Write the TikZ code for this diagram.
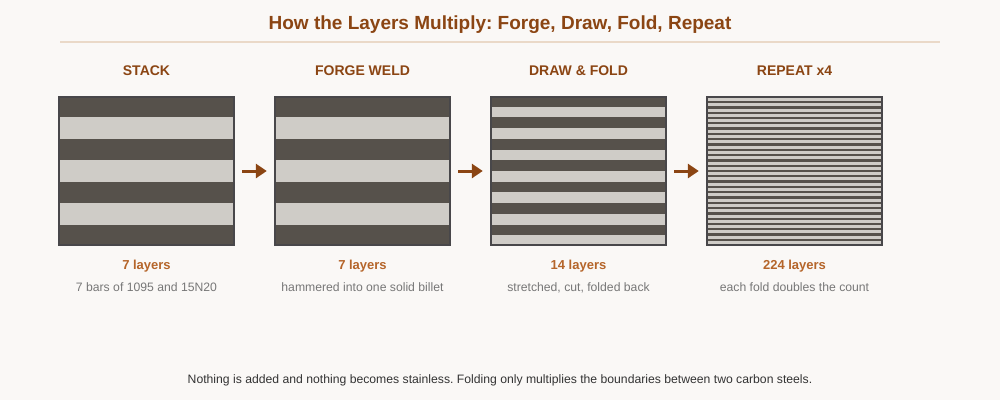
\documentclass[tikz,border=0pt]{standalone}
\usepackage{fontspec}
\setmainfont{Liberation Sans}
\usetikzlibrary{arrows.meta}
\frenchspacing

\definecolor{bgpaper}{HTML}{FAF8F6}
\definecolor{rust}{HTML}{8B4513}
\definecolor{copper}{HTML}{B5652A}
\definecolor{darksteel}{HTML}{56514B}
\definecolor{lightsteel}{HTML}{CFCCC7}
\definecolor{frameedge}{HTML}{48474A}
\definecolor{rulecol}{HTML}{EAD9C8}
\definecolor{notegray}{HTML}{777777}
\definecolor{footgray}{HTML}{333333}

\tikzset{
  billet/.style={fill=darksteel, minimum width=177pt, minimum height=150pt, inner sep=0pt},
  billetframe/.style={draw=frameedge, line width=2pt},
  stephead/.style={text=rust, font=\fontsize{14}{16}\selectfont\bfseries},
  layercount/.style={text=copper, font=\fontsize{13}{15}\selectfont\bfseries},
  stepnote/.style={text=notegray, font=\fontsize{12.2}{14}\selectfont},
  flow/.style={-{Triangle[length=11pt,width=14pt]}, line width=3pt, draw=rust, shorten <=7pt, shorten >=7pt},
}

\begin{document}
\begin{tikzpicture}[x=1pt,y=-1pt]
    \useasboundingbox (0,0) rectangle (1000,400);
    \fill[bgpaper] (0,0) rectangle (1000,400);

    % Title
    \node[text=rust, font=\fontsize{19}{23}\selectfont\bfseries] (title) at (500,25) {How the Layers Multiply: Forge, Draw, Fold, Repeat};
    \draw[rulecol, line width=1.5pt] (60,42) -- (940,42);

    % Stack: 7 layers
    \node[billet] (stack) at (146.5,171) {};
    \foreach \k in {1,3,5}
        \fill[lightsteel] (58,{96+\k*150/7}) rectangle (235,{96+(\k+1)*150/7});
    \draw[billetframe] (59,97) rectangle (234,245);

    % Forge weld: still 7 layers
    \node[billet] (weld) at (362.5,171) {};
    \foreach \k in {1,3,5}
        \fill[lightsteel] (274,{96+\k*150/7}) rectangle (451,{96+(\k+1)*150/7});
    \draw[billetframe] (275,97) rectangle (450,245);

    % Draw and fold: 14 layers
    \node[billet] (fold) at (578.5,171) {};
    \foreach \k in {1,3,...,13}
        \fill[lightsteel] (490,{96+\k*150/14}) rectangle (667,{96+(\k+1)*150/14});
    \draw[billetframe] (491,97) rectangle (666,245);

    % Repeat: fine layers
    \node[billet] (rpt) at (794.5,171) {};
    \foreach \k in {0,...,27}
        \fill[lightsteel] (706,{98+\k*5.296}) rectangle (883,{101+\k*5.296});
    \draw[billetframe] (707,97) rectangle (882,245);

    % Arrows
    \draw[flow] (stack.east) -- (weld.west);
    \draw[flow] (weld.east) -- (fold.west);
    \draw[flow] (fold.east) -- (rpt.west);

    % Step names
    \node[stephead] (stackhead) at (146.5,71) {STACK};
    \node[stephead] (weldhead) at (362.5,71) {FORGE WELD};
    \node[stephead] (foldhead) at (578.5,71) {DRAW \& FOLD};
    \node[stephead] (rpthead) at (794.5,71) {REPEAT x4};

    % Counts
    \node[layercount] (stackcount) at (146.5,266.5) {7 layers};
    \node[layercount] (weldcount) at (362.5,266.5) {7 layers};
    \node[layercount] (foldcount) at (578.5,266.5) {14 layers};
    \node[layercount] (rptcount) at (794.5,266.5) {224 layers};

    \node[stepnote] (stacknote) at (146.5,287.5) {7 bars of 1095 and 15N20};
    \node[stepnote] (weldnote) at (362.5,287.5) {hammered into one solid billet};
    \node[stepnote] (foldnote) at (578.5,287.5) {stretched, cut, folded back};
    \node[stepnote] (rptnote) at (794.5,287.5) {each fold doubles the count};

    % Footnote
    \node[text=footgray, font=\fontsize{12.2}{14}\selectfont] (footnote) at (500,380) {Nothing is added and nothing becomes stainless. Folding only multiplies the boundaries between two carbon steels.};
\end{tikzpicture}
\end{document}
